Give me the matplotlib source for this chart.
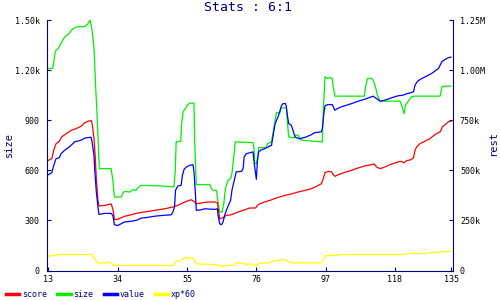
import matplotlib
matplotlib.use("Agg")
import matplotlib.pyplot as plt

# size (left axis)
size_x = [13, 14.3, 15.1, 16, 17, 18, 19, 20, 21, 22, 24, 24.8, 25.6, 26.2, 26.8, 27.3, 27.8, 28.4,
          32, 32.5, 33, 35, 35.5, 36, 37.7, 38.5, 39.5, 40, 41.1, 47.6, 51, 51.4, 51.7, 53.1, 53.3,
          53.8, 54.3, 55.1, 55.8, 57.1, 57.3, 57.8, 61.9, 62.4, 62.9, 63.9, 64.4, 64.9, 65.6, 66.2,
          66.6, 67.4, 68.2, 68.6, 69.2, 69.6, 75, 75.3, 75.5, 76, 76.5, 76.7, 79, 79.4, 80.6, 81.1,
          81.6, 82.1, 83.1, 83.4, 85.1, 85.4, 85.8, 87.5, 87.7, 88.7, 89.2, 89.9, 96, 96.3, 96.8,
          97.6, 98.3, 99, 99.3, 99.8, 108.7, 109.1, 109.7, 110.9, 111.4, 112.1, 112.7, 113.5, 119.5,
          120, 120.8, 121.2, 121.9, 122.6, 123, 124, 131.7, 132.2, 133.2, 135]
size_y = [1210, 1210, 1314, 1330, 1370, 1400, 1415, 1440, 1455, 1460, 1460, 1474, 1500, 1440, 1330,
          1100, 900, 610, 610, 540, 440, 440, 460, 474, 470, 484, 480, 494, 510, 506, 500, 590, 770,
          774, 870, 950, 964, 990, 1002, 1002, 770, 514, 514, 490, 480, 480, 410, 350, 350, 410,
          490, 540, 550, 580, 690, 770, 766, 730, 640, 640, 690, 736, 736, 760, 770, 830, 890, 946,
          946, 974, 974, 890, 800, 794, 810, 810, 786, 780, 770, 960, 1160, 1150, 1156, 1150, 1100,
          1044, 1044, 1100, 1150, 1150, 1140, 1100, 1050, 1014, 1014, 990, 940, 990, 1010, 1030,
          1040, 1044, 1044, 1100, 1104, 1104]

# score (right axis, thousands)
score_x = [13, 14, 14.6, 15.3, 16.3, 17, 18.4, 19.9, 21.4, 22.9, 23.9, 25, 26, 26.3, 26.8, 27.2, 27.5,
           28, 28.3, 30, 32, 32.5, 33, 34, 35, 36, 38, 40, 42, 45.2, 48.2, 50.7, 52.2, 53.8, 55.3,
           56.3, 57.1, 57.8, 59.3, 61.4, 63.4, 64.2, 64.6, 64.9, 65.6, 66.2, 66.9, 68.4, 70.5, 72.5,
           74, 75.8, 76.3, 77, 78.5, 80.1, 82.1, 84.6, 86.6, 88.7, 90.7, 92.7, 94.2, 95.7, 96.3,
           96.8, 97.8, 98.8, 99.3, 99.8, 100.8, 102.8, 104.9, 106.9, 108.9, 110.9, 111.7, 112.4,
           113.5, 115, 116.5, 119, 120, 120.8, 121.5, 122.9, 123.6, 124.1, 124.6, 125.6, 127.1,
           128.6, 130.1, 131.7, 132.4, 133.2, 134.2, 135]
score_y = [550, 558, 600, 633, 645, 667, 683, 700, 708, 720, 737, 745, 748, 725, 658, 558, 458, 350,
           322, 325, 332, 308, 255, 255, 263, 270, 278, 287, 292, 300, 308, 317, 325, 338, 348, 353,
           345, 333, 337, 342, 342, 338, 292, 258, 262, 267, 275, 278, 292, 303, 312, 312, 325, 333,
           342, 350, 362, 375, 382, 392, 400, 408, 420, 433, 458, 488, 495, 492, 478, 470, 478, 490,
           500, 512, 522, 528, 532, 517, 508, 517, 528, 542, 545, 537, 548, 553, 562, 600, 617, 633,
           645, 658, 678, 692, 717, 728, 742, 745]

# value (right axis, thousands)
value_x = [13, 14, 14.6, 15.3, 16.3, 16.8, 17.9, 18.9, 19.9, 20.9, 22.9, 23.7, 24.4, 25.9, 26.2, 26.8,
           27, 27.5, 28, 28.3, 30, 32, 32.5, 33, 34, 35, 36, 37.6, 38.6, 40.1, 41.1, 42.1, 45.7, 47.7,
           50.2, 50.7, 51.2, 51.5, 52.2, 53.2, 53.6, 54.1, 54.8, 55.8, 56.8, 57.1, 57.5, 57.8, 59.3,
           60.3, 63.4, 64.2, 64.4, 64.9, 65.4, 65.9, 66.4, 66.9, 67.6, 68.2, 68.6, 69.2, 69.9, 71.5,
           72, 72.3, 73, 75, 75.3, 75.7, 76, 76.3, 76.7, 77.3, 78.5, 79.6, 80.6, 81.1, 81.6, 82.1,
           82.6, 83.1, 83.6, 84.1, 84.8, 85.1, 85.4, 85.8, 86.6, 87.1, 87.7, 88.2, 89.2, 90.2, 91.2,
           92.7, 93.7, 95.7, 96, 96.4, 96.8, 97.6, 99, 99.8, 100.6, 101.8, 104.9, 106.9, 108.9,
           111.4, 112.4, 113.5, 115, 117, 119, 120.5, 121.5, 123, 123.6, 124.1, 124.9, 126.1, 127.6,
           129.1, 131.2, 132.2, 133.2, 134.2, 135]
value_y = [478, 488, 525, 558, 563, 583, 600, 612, 625, 642, 650, 658, 662, 665, 642, 575, 508, 392,
           317, 280, 285, 285, 275, 228, 225, 233, 242, 245, 247, 253, 262, 263, 272, 275, 278, 292,
           317, 400, 422, 425, 475, 505, 517, 525, 528, 492, 392, 300, 303, 308, 305, 308, 275, 233,
           228, 242, 275, 300, 328, 350, 400, 442, 492, 495, 508, 567, 583, 592, 542, 492, 455, 542,
           592, 600, 608, 617, 625, 675, 725, 750, 767, 792, 822, 833, 833, 817, 775, 733, 725, 700,
           667, 662, 658, 662, 667, 678, 688, 692, 708, 775, 822, 828, 828, 800, 808, 817, 833, 845,
           855, 870, 858, 845, 850, 862, 872, 875, 882, 888, 892, 925, 945, 958, 970, 983, 1008,
           1042, 1053, 1062, 1065]

# xp*60 (right axis, thousands)
xp_x = [13, 14.8, 16.3, 26, 27, 28, 30.5, 31, 32, 33, 50.7, 51.2, 51.7, 52.7, 53.8, 54.3, 56.8, 57.8,
        63.9, 64.9, 66.4, 67, 68.9, 69.9, 71.5, 72.5, 75, 75.8, 76.5, 77.5, 79.6, 81.1, 82.6, 84.1,
        85.1, 86.1, 87.1, 95.7, 96.6, 97, 99.8, 101.3, 121, 121.5, 128.1, 128.6, 131.7, 132.2, 135]
xp_y = [72, 75, 80, 80, 58, 37, 37, 42, 38, 25, 25, 33, 47, 47, 58, 63, 63, 33, 30, 22, 22, 25, 25,
        37, 37, 32, 32, 22, 33, 37, 37, 47, 50, 55, 50, 42, 38, 38, 62, 75, 75, 80, 80, 85, 85, 90,
        92, 95, 95]

x_ticks = [13, 34, 55, 76, 97, 118, 135]
left_ticks = [0, 300, 600, 900, 1200, 1500]
left_labels = ["0", "300", "600", "900", "1.20k", "1.50k"]
right_ticks = [0, 250, 500, 750, 1000, 1250]
right_labels = ["0", "250k", "500k", "750k", "1.00M", "1.25M"]

navy = "#000080"
mono = "DejaVu Sans Mono"

fig = plt.figure(figsize=(5, 3), dpi=100)
ax = fig.add_axes([0.093, 0.0983, 0.813, 0.835])
ax2 = ax.twinx()

lw = 0.9
l_score, = ax2.plot(score_x, score_y, color="#ff0000", lw=lw)
l_size, = ax.plot(size_x, size_y, color="#00f000", lw=lw)
l_value, = ax2.plot(value_x, value_y, color="#0000ff", lw=lw)
l_xp, = ax2.plot(xp_x, xp_y, color="#ffff00", lw=lw)

ax.set_xlim(12.4, 135.6)
ax.set_ylim(0, 1500)
ax2.set_ylim(0, 1250)

ax.set_xticks(x_ticks)
ax.set_xticklabels([str(t) for t in x_ticks], fontfamily=mono, fontsize=6)
ax.set_yticks(left_ticks)
ax.set_yticklabels(left_labels, fontfamily=mono, fontsize=6)
ax2.set_yticks(right_ticks)
ax2.set_yticklabels(right_labels, fontfamily=mono, fontsize=6)

for a in (ax, ax2):
    a.tick_params(direction="in", length=3, width=0.8, color=navy, pad=5)
    a.spines["top"].set_visible(False)
    for s in ("left", "right", "bottom"):
        a.spines[s].set_color(navy)
        a.spines[s].set_linewidth(0.8)
ax.spines["right"].set_visible(False)
ax2.spines["left"].set_visible(False)
ax2.spines["bottom"].set_visible(False)
ax.tick_params(axis="x", pad=3)

fig.text(0.497, 0.975, "Stats : 6:1", ha="center", va="center", color=navy,
         fontfamily=mono, fontsize=9.5)
fig.text(0.017, 0.517, "size", rotation=90, ha="center", va="center", color=navy,
         fontfamily=mono, fontsize=7.5)
fig.text(0.986, 0.52, "rest", rotation=90, ha="center", va="center", color=navy,
         fontfamily=mono, fontsize=7.5)

fig.legend([l_score, l_size, l_value, l_xp], ["score", "size", "value", "xp*60"],
           loc="lower left", bbox_to_anchor=(-0.003, -0.022), ncol=4, frameon=False,
           prop={"family": mono, "size": 6}, labelcolor=navy, handlelength=1.6,
           handletextpad=0.3, columnspacing=1.25)
for h in fig.legends[0].get_lines():
    h.set_linewidth(2.5)

fig.savefig("out.png", dpi=100)
